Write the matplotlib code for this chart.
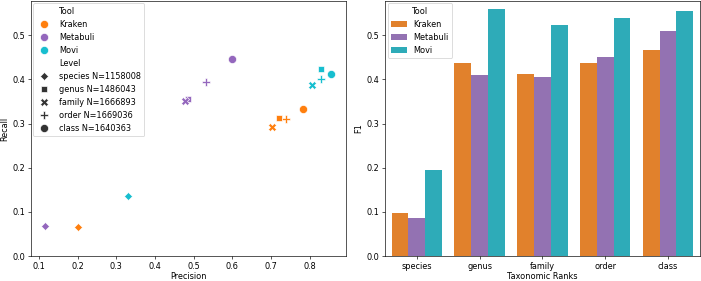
import matplotlib
matplotlib.use("Agg")
import matplotlib.pyplot as plt
from matplotlib.lines import Line2D
import numpy as np
import seaborn as sns

tools = ["Kraken", "Metabuli", "Movi"]
levels = ["species", "genus", "family", "order", "class"]
level_n = [1158008, 1486043, 1666893, 1669036, 1640363]

# precision / recall per tool, in level order
precision = {
    "Kraken":   [0.200, 0.720, 0.702, 0.738, 0.783],
    "Metabuli": [0.1155, 0.484, 0.478, 0.533, 0.600],
    "Movi":     [0.331, 0.828, 0.807, 0.828, 0.854],
}
recall = {
    "Kraken":   [0.0647, 0.313, 0.2925, 0.311, 0.333],
    "Metabuli": [0.067, 0.3566, 0.352, 0.394, 0.4457],
    "Movi":     [0.137, 0.423, 0.387, 0.400, 0.4124],
}
f1 = {
    "Kraken":   [0.0973, 0.4367, 0.412, 0.437, 0.4674],
    "Metabuli": [0.085, 0.410, 0.406, 0.4516, 0.5104],
    "Movi":     [0.1946, 0.5595, 0.523, 0.539, 0.5545],
}

point_colors = {"Kraken": "#ff7f0e", "Metabuli": "#9467bd", "Movi": "#17becf"}
bar_colors = {t: sns.desaturate(c, 0.75) for t, c in point_colors.items()}
level_markers = {"species": (4, 0, 0), "genus": (4, 0, 45), "family": "X",
                 "order": "P", "class": "o"}

DPI = 58.4
fig = plt.figure(figsize=(701 / DPI, 281 / DPI), dpi=DPI)
ax1 = fig.add_axes([30.7 / 701, 25 / 281, 315 / 701, 255 / 281])
ax2 = fig.add_axes([385.3 / 701, 25 / 281, 314.2 / 701, 255 / 281])

s = 100
lw = 0.08 * np.sqrt(s)

# scatter: precision vs recall
for t in tools:
    for i, lev in enumerate(levels):
        ax1.scatter(precision[t][i], recall[t][i], s=s, c=point_colors[t],
                    marker=level_markers[lev], edgecolors="w", linewidths=lw)

ax1.set_xlim(0.0786, 0.893)
ax1.set_ylim(0, 0.5776)
ax1.set_xlabel("Precision", labelpad=2)
ax1.set_ylabel("Recall")

handles = [Line2D([], [], linestyle="none", label="Tool")]
for t in tools:
    handles.append(Line2D([], [], linestyle="none", marker="o", color=point_colors[t],
                          markeredgecolor="w", markeredgewidth=lw,
                          markersize=np.sqrt(s), label=t))
handles.append(Line2D([], [], linestyle="none", label="Level"))
for lev, n in zip(levels, level_n):
    handles.append(Line2D([], [], linestyle="none", marker=level_markers[lev], color=".2",
                          markeredgecolor="w", markeredgewidth=lw,
                          markersize=np.sqrt(s), label=f"{lev} N={n}"))
ax1.legend(handles=handles, loc="upper left", borderaxespad=0.3)

# bars: F1 per rank
x = np.arange(len(levels))
w = 0.8 / len(tools)
for j, t in enumerate(tools):
    ax2.bar(x - 0.4 + w * (j + 0.5), f1[t], width=w, color=bar_colors[t], label=t)
ax2.set_xticks(x)
ax2.set_xticklabels(levels)
ax2.set_xlim(-0.5, len(levels) - 0.5)
ax2.set_ylim(0, 0.5776)
ax2.set_xlabel("Taxonomic Ranks", labelpad=2)
ax2.set_ylabel("F1")
ax2.legend(title="Tool", loc="upper left", borderaxespad=0.3)

fig.savefig("out.png", dpi=DPI)
